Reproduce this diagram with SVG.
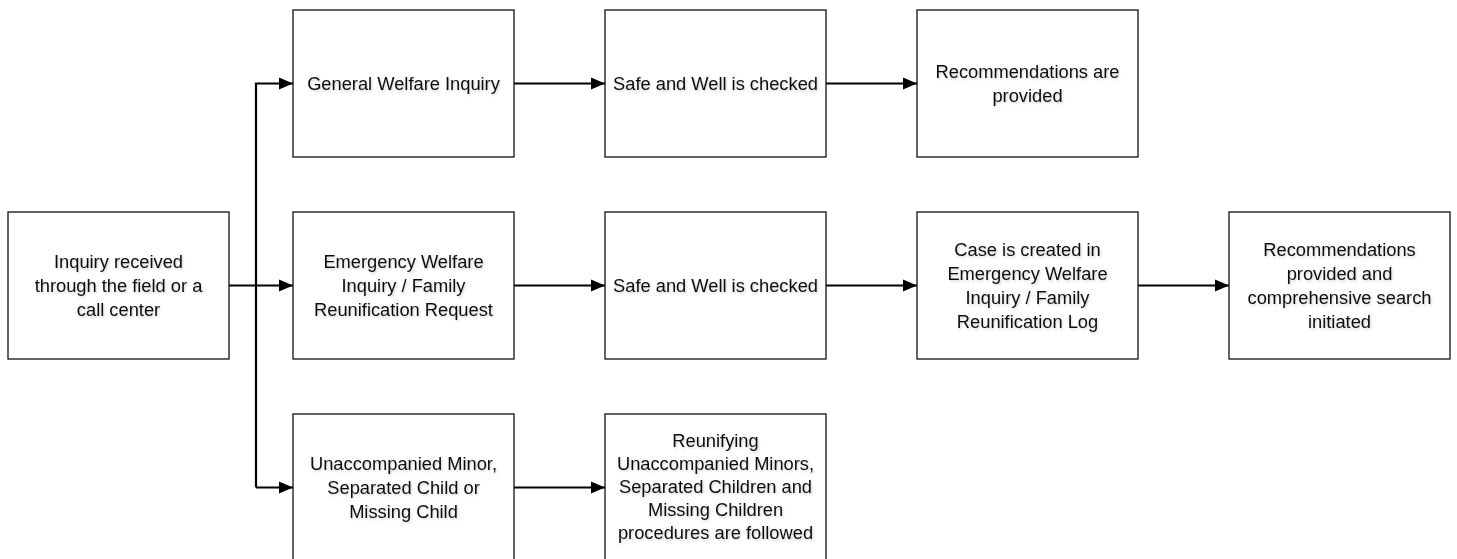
<svg xmlns="http://www.w3.org/2000/svg" width="1457" height="559" viewBox="0 0 1457 559">
<defs>
<style>
.box{fill:#fff;stroke:#111;stroke-width:1.3}
.lbl{font-family:"Liberation Sans",Arial,sans-serif;font-size:18.3px;fill:#111;text-anchor:middle}
.con{fill:none;stroke:#000;stroke-width:2.2}
</style>
<marker id="ah" markerUnits="userSpaceOnUse" markerWidth="15" markerHeight="15" viewBox="0 0 15 15" refX="14" refY="7.5" orient="auto">
<path d="M0,1.5 L14,7.5 L0,13.5 Z" fill="#000"/>
</marker>
<filter id="sh" x="-10%" y="-10%" width="120%" height="130%">
<feDropShadow dx="1" dy="1.5" stdDeviation="1" flood-color="#000" flood-opacity="0.18"/>
</filter>
</defs>
<rect width="1457" height="559" fill="#fff"/>
<g id="connectors">
<path class="con" d="M229,285.5 H293" marker-end="url(#ah)"/>
<path class="con" d="M256,487.5 V83.5 H293" marker-end="url(#ah)"/>
<path class="con" d="M256,487.5 H293" marker-end="url(#ah)"/>
<path class="con" d="M514,83.5 H605" marker-end="url(#ah)"/>
<path class="con" d="M826,83.5 H917" marker-end="url(#ah)"/>
<path class="con" d="M514,285.5 H605" marker-end="url(#ah)"/>
<path class="con" d="M826,285.5 H917" marker-end="url(#ah)"/>
<path class="con" d="M1138,285.5 H1229" marker-end="url(#ah)"/>
<path class="con" d="M514,487.5 H605" marker-end="url(#ah)"/>
</g>
<g id="n_inquiry">
<rect class="box" x="8" y="212" width="221" height="147"/>
<text class="lbl" filter="url(#sh)"><tspan x="118.5" y="267.5">Inquiry received</tspan><tspan x="118.5" y="291.5">through the field or a</tspan><tspan x="118.5" y="315.5">call center</tspan></text>
</g>
<g id="n_general">
<rect class="box" x="293" y="10" width="221" height="147"/>
<text class="lbl" filter="url(#sh)"><tspan x="403.5" y="89.5">General Welfare Inquiry</tspan></text>
</g>
<g id="n_safe1">
<rect class="box" x="605" y="10" width="221" height="147"/>
<text class="lbl" filter="url(#sh)"><tspan x="715.5" y="89.5">Safe and Well is checked</tspan></text>
</g>
<g id="n_recs1">
<rect class="box" x="917" y="10" width="221" height="147"/>
<text class="lbl" filter="url(#sh)"><tspan x="1027.5" y="77.5">Recommendations are</tspan><tspan x="1027.5" y="101.5">provided</tspan></text>
</g>
<g id="n_emergency">
<rect class="box" x="293" y="212" width="221" height="147"/>
<text class="lbl" filter="url(#sh)"><tspan x="403.5" y="267.5">Emergency Welfare</tspan><tspan x="403.5" y="291.5">Inquiry / Family</tspan><tspan x="403.5" y="315.5">Reunification Request</tspan></text>
</g>
<g id="n_safe2">
<rect class="box" x="605" y="212" width="221" height="147"/>
<text class="lbl" filter="url(#sh)"><tspan x="715.5" y="291.5">Safe and Well is checked</tspan></text>
</g>
<g id="n_case">
<rect class="box" x="917" y="212" width="221" height="147"/>
<text class="lbl" filter="url(#sh)"><tspan x="1027.5" y="255.5">Case is created in</tspan><tspan x="1027.5" y="279.5">Emergency Welfare</tspan><tspan x="1027.5" y="303.5">Inquiry / Family</tspan><tspan x="1027.5" y="327.5">Reunification Log</tspan></text>
</g>
<g id="n_recs2">
<rect class="box" x="1229" y="212" width="221" height="147"/>
<text class="lbl" filter="url(#sh)"><tspan x="1339.5" y="255.5">Recommendations</tspan><tspan x="1339.5" y="279.5">provided and</tspan><tspan x="1339.5" y="303.5">comprehensive search</tspan><tspan x="1339.5" y="327.5">initiated</tspan></text>
</g>
<g id="n_minor">
<rect class="box" x="293" y="414" width="221" height="147"/>
<text class="lbl" filter="url(#sh)"><tspan x="403.5" y="469.5">Unaccompanied Minor,</tspan><tspan x="403.5" y="493.5">Separated Child or</tspan><tspan x="403.5" y="517.5">Missing Child</tspan></text>
</g>
<g id="n_reunify">
<rect class="box" x="605" y="414" width="221" height="147"/>
<text class="lbl" filter="url(#sh)"><tspan x="715.5" y="446.5">Reunifying</tspan><tspan x="715.5" y="469.5">Unaccompanied Minors,</tspan><tspan x="715.5" y="492.5">Separated Children and</tspan><tspan x="715.5" y="515.5">Missing Children</tspan><tspan x="715.5" y="538.5">procedures are followed</tspan></text>
</g>
</svg>
